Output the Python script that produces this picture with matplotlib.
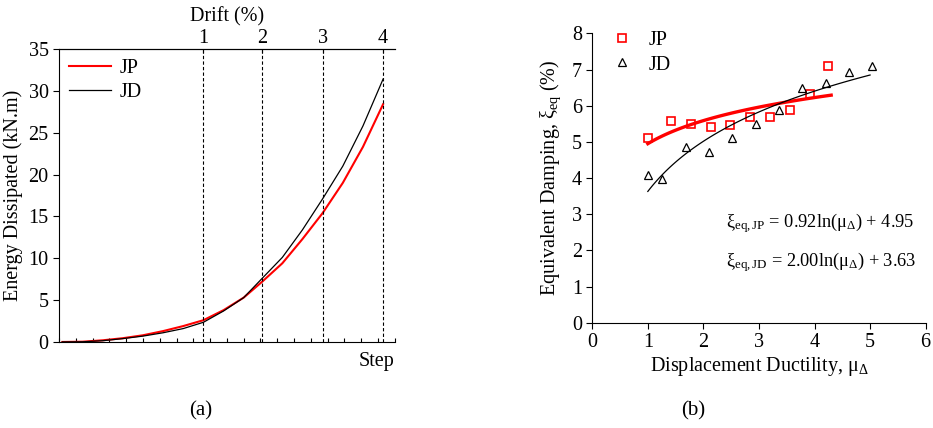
import matplotlib.pyplot as plt
import numpy as np

plt.rcParams['font.family'] = 'Liberation Serif'
plt.rcParams['mathtext.fontset'] = 'custom'
plt.rcParams['mathtext.rm'] = 'Liberation Serif'
plt.rcParams['mathtext.it'] = 'Liberation Serif'

# (a) energy dissipated vs loading step
step = [0.2, 1.4, 2.6, 3.8, 5.0, 6.2, 7.4, 8.6, 9.8, 11.0, 12.1, 13.3, 14.5, 15.7, 16.9, 18.1, 19.3]
energy_jp = [0, 0.03, 0.2, 0.45, 0.8, 1.3, 1.9, 2.6, 3.8, 5.3, 7.2, 9.4, 12.3, 15.4, 19.0, 23.3, 28.4]
energy_jd = [0, 0.02, 0.15, 0.4, 0.7, 1.1, 1.6, 2.35, 3.7, 5.3, 7.6, 10.1, 13.4, 17.1, 21.0, 25.8, 31.4]
drift_step = [8.6, 12.1, 15.7, 19.3]
drift_labels = ['1', '2', '3', '4']

# (b) equivalent damping vs ductility
mu_jp = [1.0, 1.42, 1.78, 2.13, 2.48, 2.83, 3.19, 3.55, 3.91, 4.25]
xi_jp = [5.12, 5.58, 5.50, 5.41, 5.47, 5.69, 5.70, 5.88, 6.32, 7.09]
mu_jd = [1.0, 1.26, 1.68, 2.10, 2.52, 2.94, 3.36, 3.78, 4.20, 4.62, 5.04]
xi_jd = [4.08, 3.98, 4.86, 4.73, 5.11, 5.50, 5.87, 6.49, 6.63, 6.93, 7.09]
fit_jp = [0.92, 4.95]  # a*ln(mu) + b
fit_jd = [2.00, 3.63]
fit_range_jp = [1.0, 4.3]
fit_range_jd = [1.0, 5.0]

fig = plt.figure(figsize=(9.33, 4.28), dpi=100)

ax1 = fig.add_axes([0.0632, 0.201, 0.360, 0.6846])
ax1.plot(step, energy_jp, color='red', lw=1.5, label='JP')
ax1.plot(step, energy_jd, color='black', lw=0.9, label='JD')
for d in drift_step:
    ax1.axvline(d, color='black', ls='--', lw=0.8, dashes=(3, 2))
ax1.set_xlim(0, 20)
ax1.set_ylim(0, 35)
ax1.set_yticks(np.arange(0, 36, 5))
ax1.set_xticks(np.arange(0, 21, 1))
ax1.set_xticklabels([])
ax1.spines['right'].set_visible(False)
ax1.tick_params(axis='y', direction='out', labelsize=14.5, length=4)
ax1.tick_params(axis='x', direction='in', length=3)
ax1.set_ylabel('Energy Dissipated (kN.m)', fontsize=14.5, labelpad=4)
ax1.text(1.0, -0.035, 'Step', transform=ax1.transAxes, ha='right', va='top', fontsize=14.5)
top = ax1.secondary_xaxis('top')
top.set_xticks(drift_step)
top.set_xticklabels(drift_labels)
top.tick_params(direction='in', length=3, labelsize=14.5, pad=1)
top.set_xlabel('Drift (%)', fontsize=14.5, labelpad=5)
ax1.legend(loc='upper left', frameon=False, fontsize=14.5, handlelength=2.1,
           handletextpad=0.4, borderaxespad=0.1, labelspacing=0.25,
           bbox_to_anchor=(0.0, 1.0))

ax2 = fig.add_axes([0.6348, 0.246, 0.3573, 0.676])
ax2.plot(mu_jp, xi_jp, 's', mfc='none', mec='red', ms=5.5, mew=1.2, label='JP')
ax2.plot(mu_jd, xi_jd, '^', mfc='none', mec='black', ms=6, mew=0.9, label='JD')
x = np.linspace(fit_range_jp[0], fit_range_jp[1], 100)
ax2.plot(x, fit_jp[0] * np.log(x) + fit_jp[1], color='red', lw=2.4)
x = np.linspace(fit_range_jd[0], fit_range_jd[1], 100)
ax2.plot(x, fit_jd[0] * np.log(x) + fit_jd[1], color='black', lw=0.9)
ax2.set_xlim(0, 6)
ax2.set_ylim(0, 8)
ax2.set_xticks(range(0, 7))
ax2.set_yticks(range(0, 9))
ax2.spines['top'].set_visible(False)
ax2.spines['right'].set_visible(False)
ax2.tick_params(direction='out', labelsize=14.5, length=4)
ax2.set_xlabel('Displacement Ductility, μ$_{Δ}$', fontsize=14.5, labelpad=2)
ax2.set_ylabel('Equivalent Damping, ξ$_{\\rm eq}$ (%)', fontsize=14.5, labelpad=6)
ax2.legend(loc='upper left', frameon=False, fontsize=14.5, handlelength=1.0,
           handletextpad=0.8, borderaxespad=0.0, labelspacing=0.25,
           bbox_to_anchor=(0.035, 1.035))
ax2.text(0.402, 0.33, 'ξ$_{\\rm eq,JP}$ = 0.92ln(μ$_{Δ}$) + 4.95',
         transform=ax2.transAxes, fontsize=13.2)
ax2.text(0.402, 0.195, 'ξ$_{\\rm eq,JD}$ = 2.00ln(μ$_{Δ}$) + 3.63',
         transform=ax2.transAxes, fontsize=13.2)

fig.text(0.215, 0.03, '(a)', ha='center', fontsize=15)
fig.text(0.743, 0.03, '(b)', ha='center', fontsize=15)

fig.savefig('out.png', dpi=100)
